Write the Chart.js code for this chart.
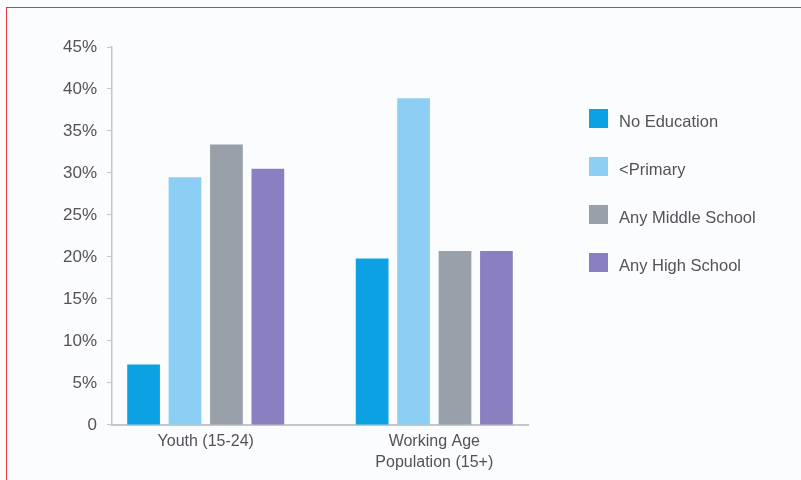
<!DOCTYPE html>
<html>
<head>
<meta charset="utf-8">
<script src="https://cdn.jsdelivr.net/npm/chart.js"></script>
<style>
  html, body { margin: 0; padding: 0; background: #fbfcfe; }
  #wrap { position: relative; width: 801px; height: 480px; overflow: hidden; }
  #frame { position: absolute; left: 6px; top: 7px; right: -10px; bottom: -10px;
           border-top: 1.5px solid #e8363c; border-left: 1.5px solid #e8363c; }
  canvas { position: absolute; left: 0; top: 0; }
  #legend { position: absolute; left: 589px; top: 109px;
            font: 16.5px "Liberation Sans", Arial, sans-serif; color: #55505a; }
  .item { display: flex; align-items: center; height: 19px; margin-bottom: 29px; white-space: nowrap; }
  .item span:last-child { position: relative; top: 3px; }
  .swatch { width: 19px; height: 19px; margin-right: 11px; }
</style>
</head>
<body>
<div id="wrap">
  <div id="frame"></div>
  <canvas id="summary" width="801" height="480"></canvas>
  <div id="legend"></div>
</div>
<script>
const groups = [['Youth (15-24)'], ['Working Age', 'Population (15+)']]
const levels = ['No Education', '<Primary', 'Any Middle School', 'Any High School']
const colors = ['#0ba1e2', '#8dcef5', '#98a0a9', '#8a7fc0']

// share of each group, in percent
const noEducation = [7.2, 19.8]
const primary = [29.5, 38.9]
const middleSchool = [33.4, 20.7]
const highSchool = [30.5, 20.7]

const yTickLabels = ['0', '5%', '10%', '15%', '20%', '25%', '30%', '35%', '40%', '45%']

const series = [noEducation, primary, middleSchool, highSchool]
const textColor = '#55505a'
const axisColor = '#c3c7cd'
const fontFamily = '"Liberation Sans", Arial, sans-serif'

// legend on the right, built from the same names and colours
const legend = document.getElementById('legend')
levels.forEach((name, i) => {
  const row = document.createElement('div')
  row.className = 'item'
  const sw = document.createElement('span')
  sw.className = 'swatch'
  sw.style.background = colors[i]
  const txt = document.createElement('span')
  txt.textContent = name
  row.appendChild(sw)
  row.appendChild(txt)
  legend.appendChild(row)
})

let barChart = new Chart(document.getElementById('summary'), {
  type: 'bar',
  data: {
    datasets: series.map((values, i) => ({
      label: levels[i],
      data: values.map((v, g) => ({ x: g, y: v })),
      backgroundColor: colors[i],
      borderWidth: 0
    }))
  },
  options: {
    responsive: false,
    animation: false,
    layout: { padding: { left: 50, right: 273, top: 47, bottom: 1.5 } },
    datasets: { bar: { categoryPercentage: 0.725, barPercentage: 0.79 } },
    plugins: { legend: { display: false }, tooltip: { enabled: false } },
    scales: {
      x: {
        type: 'linear',
        offset: false,
        min: -0.41,
        max: 1.41,
        grid: { display: false, drawTicks: false },
        border: { color: axisColor, width: 2 },
        ticks: {
          stepSize: 1,
          includeBounds: false,
          padding: 6,
          color: textColor,
          font: { family: fontFamily, size: 16, lineHeight: 1.3 },
          callback: v => groups[v] || ''
        }
      },
      y: {
        min: 0,
        max: 45,
        afterFit: s => { s.width = 62 },
        grid: { drawOnChartArea: false, tickLength: 5, color: axisColor },
        border: { color: axisColor, width: 1.5 },
        ticks: {
          stepSize: 5,
          padding: 10,
          color: textColor,
          font: { family: fontFamily, size: 17 },
          callback: (v, i) => yTickLabels[i]
        }
      }
    }
  }
})
</script>
</body>
</html>
